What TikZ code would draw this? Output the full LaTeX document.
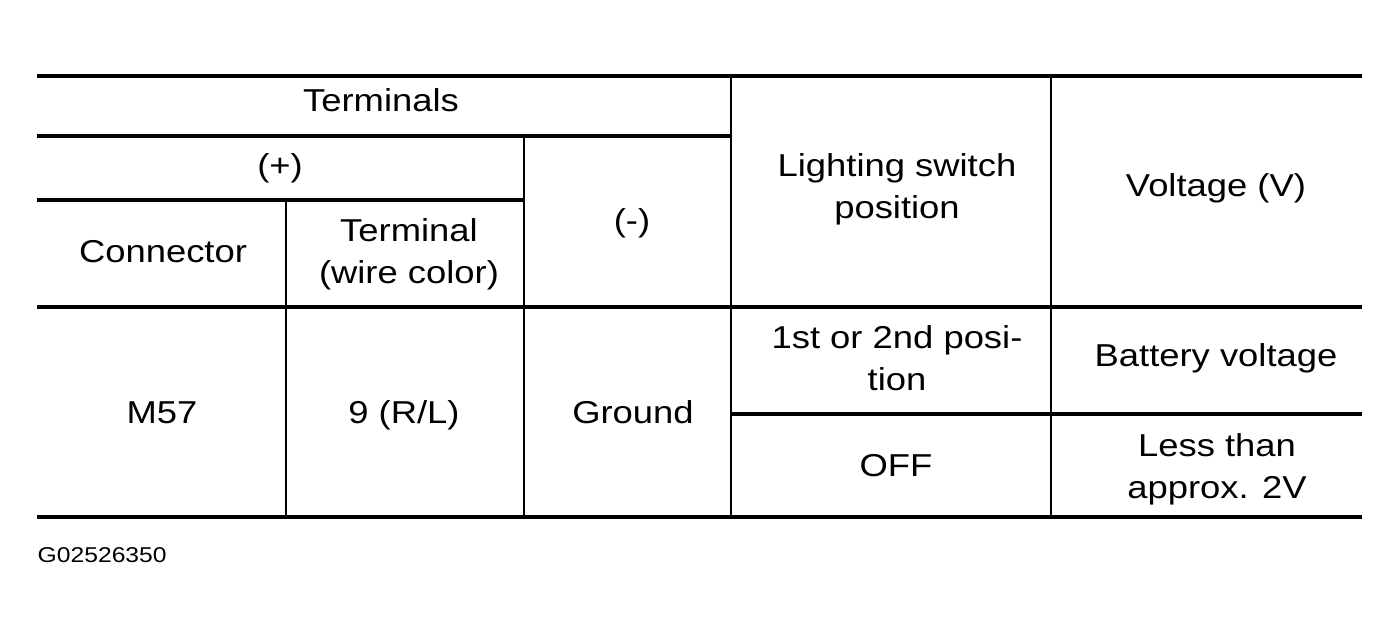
\documentclass[tikz,border=0pt]{standalone}
\usepackage{fontspec}
\setmainfont[FakeStretch=1.15]{Liberation Sans}
\usepackage{tikz}

\tikzset{cell/.style={inner sep=0pt, align=center, font=\fontsize{9pt}{12pt}\selectfont}}

\begin{document}
\begin{tikzpicture}[x=0.01cm,y=-0.01cm]
    \useasboundingbox (0,0) rectangle (1400,638);
    \draw [line width=1.1pt](37,76)--(1362,76);
    \draw [line width=1.1pt](37,136)--(731,136);
    \draw [line width=1pt](37,200)--(524,200);
    \draw [line width=1.3pt](37,307)--(1362,307);
    \draw [line width=1pt](731,414)--(1362,414);
    \draw [line width=1.1pt](37,517)--(1362,517);
    \draw [line width=0.6pt](286,200)--(286,517);
    \draw [line width=0.6pt](524,136)--(524,517);
    \draw [line width=0.7pt](731,76)--(731,517);
    \draw [line width=0.7pt](1051,76)--(1051,517);
    \draw (381,111)node[cell,anchor=base](terminals){Terminals};
    \draw (280,176)node[cell,anchor=base](plus){(+)};
    \draw (632,231)node[cell,anchor=base](minus){(-)};
    \draw (163,262)node[cell,anchor=base](connector){Connector};
    \draw (409,218)node[cell,anchor=north](terminal){Terminal\\(wire color)};
    \draw (897,153)node[cell,anchor=north](switch){Lighting switch\\position};
    \draw (1216,196)node[cell,anchor=base](voltage){Voltage (V)};
    \draw (162,423)node[cell,anchor=base](m57){M57};
    \draw (404,423)node[cell,anchor=base](wire){9 (R/L)};
    \draw (633,423)node[cell,anchor=base](ground){Ground};
    \draw (897,325)node[cell,anchor=north](first){1st or 2nd posi-\\tion};
    \draw (1216,366)node[cell,anchor=base](battery){Battery voltage};
    \draw (896,476)node[cell,anchor=base](off){OFF};
    \draw (1217,433)node[cell,anchor=north](less){Less than\\approx. 2V};
    \draw (37,562)node[inner sep=0pt,anchor=base west,font=\fontsize{6.1pt}{8pt}\selectfont](code){G02526350};
\end{tikzpicture}
\end{document}
